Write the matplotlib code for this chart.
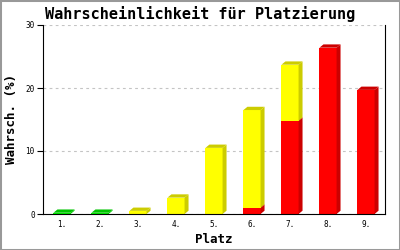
import numpy as np
import matplotlib
matplotlib.use("Agg")
import matplotlib.pyplot as plt
from matplotlib.patches import Polygon, Rectangle

# Daten
plaetze = ['1.', '2.', '3.', '4.', '5.', '6.', '7.', '8.', '9.']
rot = [0, 0, 0, 0, 0, 1.0, 14.8, 26.4, 19.7]
gelb = [0, 0, 0.5, 2.6, 10.5, 15.5, 8.9, 0, 0]
gruen = [0.2, 0.2, 0, 0, 0, 0, 0, 0, 0]
y_ticks = [0, 10, 20, 30]

# Farben: (Vorderseite, Seite/Deckel)
serien = [
    (rot, '#ff0000', '#cc0000'),
    (gelb, '#ffff00', '#cccc00'),
    (gruen, '#00ee00', '#00c400'),
]

mono = 'DejaVu Sans Mono'
breite = 0.45
dx, dy = 0.105, 0.52  # Tiefe des 3D-Effekts

fig = plt.figure(figsize=(4, 2.5), dpi=100)
ax = fig.add_axes([43 / 400, 36 / 250, 342 / 400, 189 / 250])

x = np.arange(1, len(plaetze) + 1)
unten = np.zeros(len(plaetze))
for werte, farbe, dunkel in serien:
    werte = np.array(werte, dtype=float)
    ax.bar(x, werte, breite, bottom=unten, color=farbe, linewidth=0, zorder=3)
    for xi, b, h in zip(x, unten, werte):
        if h <= 0:
            continue
        t = b + h
        xl, xr = xi - breite / 2, xi + breite / 2
        seite = [(xr, b), (xr + dx, b + dy), (xr + dx, t + dy), (xr, t)]
        deckel = [(xl, t), (xl + dx, t + dy), (xr + dx, t + dy), (xr, t)]
        ax.add_patch(Polygon(seite, closed=True, fc=dunkel, ec='none', zorder=3))
        ax.add_patch(Polygon(deckel, closed=True, fc=dunkel, ec='none', zorder=3))
    unten = unten + werte

ax.set_xlim(0.5, 9.5)
ax.set_ylim(0, 30)
ax.set_xticks(x)
ax.set_xticklabels(plaetze, fontfamily=mono, fontsize=5.5)
ax.set_yticks(y_ticks)
ax.set_yticklabels([str(v) for v in y_ticks], fontfamily=mono, fontsize=5.5)
ax.tick_params(axis='x', length=0, pad=4)
ax.tick_params(axis='y', length=4, width=0.8, direction='out', pad=2)

ax.grid(axis='y', color='#c4c4c4', linestyle=(0, (2.5, 3)), linewidth=0.8, zorder=0)
ax.spines['top'].set_visible(False)
for s in ['left', 'right', 'bottom']:
    ax.spines[s].set_linewidth(0.8)
    ax.spines[s].set_zorder(4)

ax.set_xlabel('Platz', fontfamily=mono, fontweight='bold', fontsize=9)
ax.set_ylabel('Wahrsch. (%)', fontfamily=mono, fontweight='bold', fontsize=9)
ax.xaxis.set_label_coords(0.5, -0.1)
ax.yaxis.set_label_coords(-0.072, 0.5)

fig.text(0.5, 1 - 14 / 250, 'Wahrscheinlichkeit für Platzierung',
         fontfamily=mono, fontweight='bold', fontsize=11, ha='center', va='center')

# grauer Rahmen
fig.patches.append(Rectangle((0, 0), 1, 1, transform=fig.transFigure,
                             fill=False, ec='#999999', lw=2.2))

fig.savefig('out.png', dpi=100)
